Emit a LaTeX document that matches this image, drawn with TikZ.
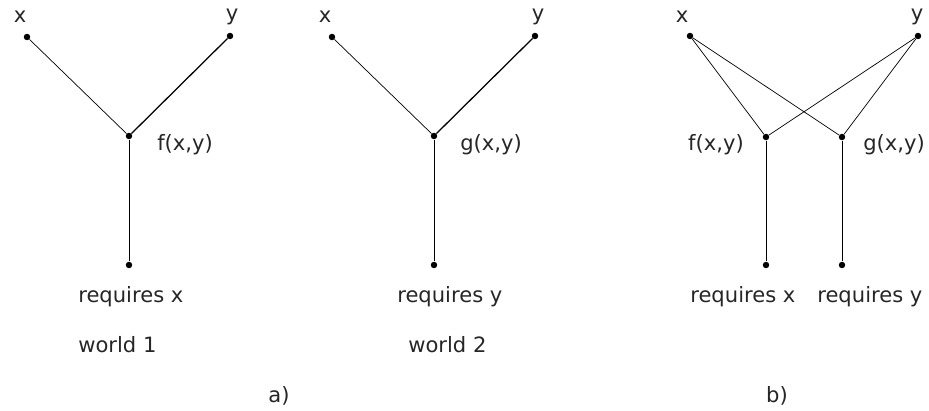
\documentclass[tikz,border=0pt]{standalone}
\usepackage{fontspec}
\setmainfont{DejaVu Sans}
\usetikzlibrary{positioning}

\begin{document}
\begin{tikzpicture}[
    x=0.025cm, y=-0.025cm,
    dot/.style={circle, fill=black, inner sep=0pt, minimum size=4.6pt},
    link/.style={line width=0.5pt},
    boldlink/.style={line width=0.9pt},
    lbl/.style={inner sep=0pt, font=\fontsize{15}{17}\selectfont, text=black!85}
]
    \useasboundingbox (0,0) rectangle (929,410);

    % World 1
    \node[dot] (xa) at (27,37) {};
    \node[dot] (ya) at (230,36) {};
    \node[dot] (fa) at (129,136) {};
    \node[dot] (ra) at (129,265) {};
    \draw[link] (xa) -- (fa);
    \draw[boldlink] (ya) -- (fa);
    \draw[link] (fa) -- (ra);
    \node[lbl, anchor=base] (xlblA) at (20,22) {x};
    \node[lbl, anchor=base] (ylblA) at (232,20) {y};
    \node[lbl, anchor=base west] (flblA) at (157,150) {f(x,y)};
    \node[lbl, anchor=base west] (reqA) at (78,302) {requires x};
    \node[lbl, anchor=base west] (worldA) at (78,352) {world 1};

    % World 2
    \node[dot] (xb) at (332,37) {};
    \node[dot] (yb) at (535,36) {};
    \node[dot] (gb) at (434,136) {};
    \node[dot] (rb) at (434,265) {};
    \draw[link] (xb) -- (gb);
    \draw[boldlink] (yb) -- (gb);
    \draw[link] (gb) -- (rb);
    \node[lbl, anchor=base] (xlblB) at (325,22) {x};
    \node[lbl, anchor=base] (ylblB) at (538,20) {y};
    \node[lbl, anchor=base west] (glblB) at (460,150) {g(x,y)};
    \node[lbl, anchor=base west] (reqB) at (397,302) {requires y};
    \node[lbl, anchor=base west] (worldB) at (408,352) {world 2};

    \node[lbl, anchor=base] (capA) at (279,402) {a)};

    % Combined
    \node[dot] (xc) at (690,36) {};
    \node[dot] (yc) at (918,36) {};
    \node[dot] (fc) at (766,137) {};
    \node[dot] (gc) at (842,137) {};
    \node[dot] (rxc) at (766,265) {};
    \node[dot] (ryc) at (842,265) {};
    \draw[link] (xc) -- (fc);
    \draw[link] (xc) -- (gc);
    \draw[link] (yc) -- (fc);
    \draw[link] (yc) -- (gc);
    \draw[link] (fc) -- (rxc);
    \draw[link] (gc) -- (ryc);
    \node[lbl, anchor=base] (xlblC) at (682,22) {x};
    \node[lbl, anchor=base] (ylblC) at (917,20) {y};
    \node[lbl, anchor=base east] (flblC) at (744,150) {f(x,y)};
    \node[lbl, anchor=base west] (glblC) at (863,150) {g(x,y)};
    \node[lbl, anchor=base west] (reqCx) at (690,302) {requires x};
    \node[lbl, anchor=base west] (reqCy) at (817,302) {requires y};

    \node[lbl, anchor=base] (capB) at (777,402) {b)};
\end{tikzpicture}
\end{document}
